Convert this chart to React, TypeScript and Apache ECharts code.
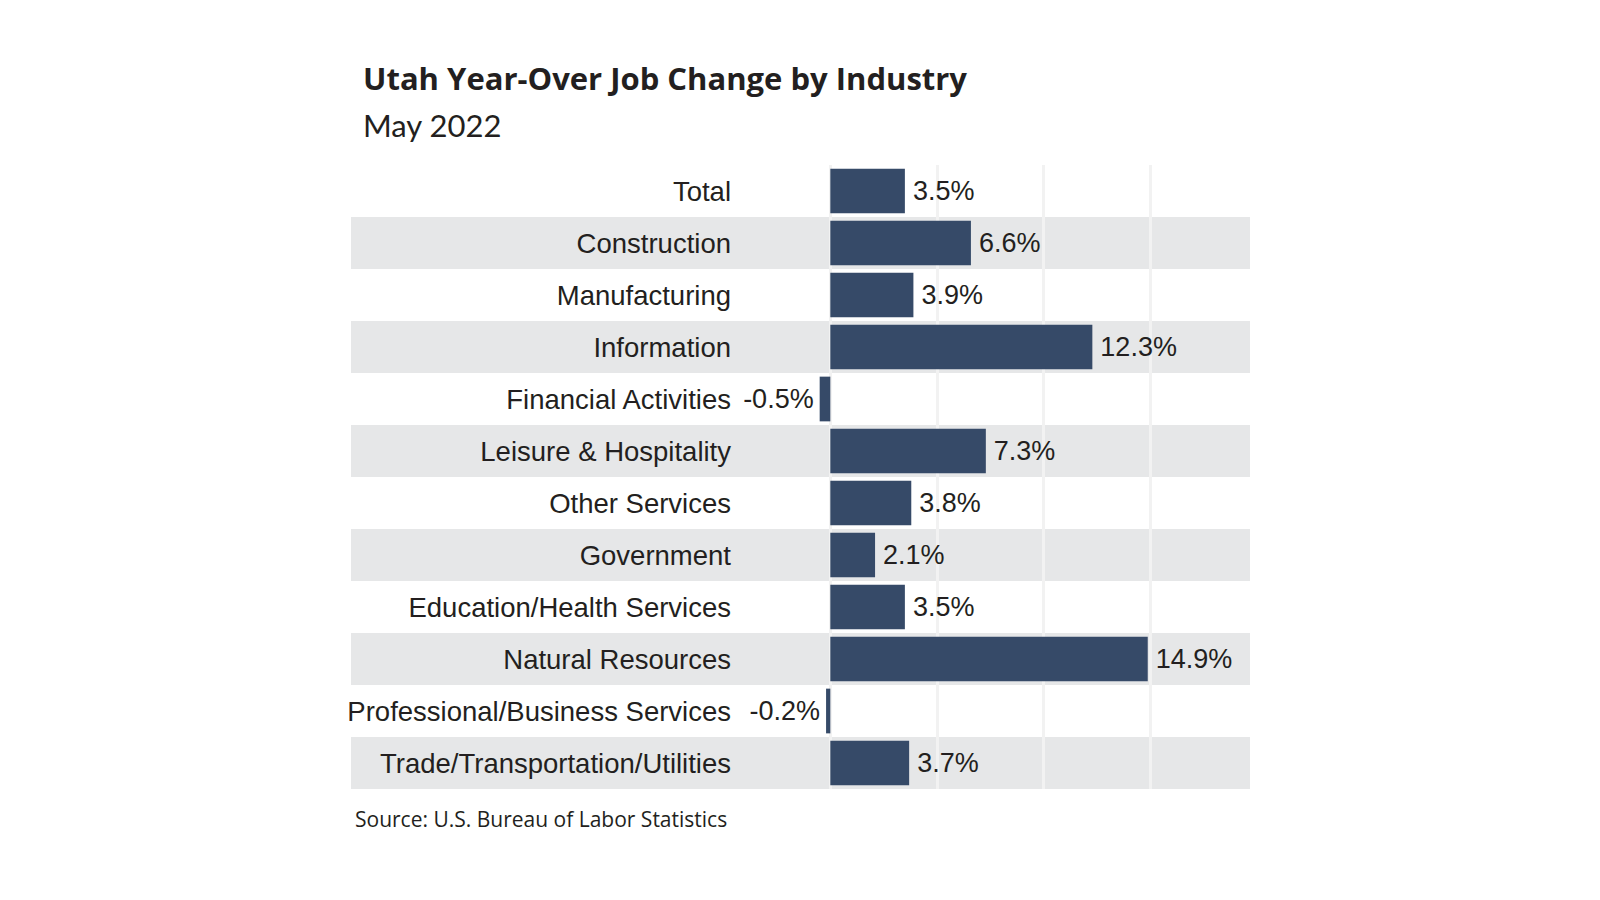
import { useEffect, useRef } from "react";
import * as echarts from "echarts";

const industries = [
  "Total",
  "Construction",
  "Manufacturing",
  "Information",
  "Financial Activities",
  "Leisure & Hospitality",
  "Other Services",
  "Government",
  "Education/Health Services",
  "Natural Resources",
  "Professional/Business Services",
  "Trade/Transportation/Utilities",
];
const jobChange = [3.5, 6.6, 3.9, 12.3, -0.5, 7.3, 3.8, 2.1, 3.5, 14.9, -0.2, 3.7];
const gridValues = [0, 5, 10, 15];

export default function App(): JSX.Element {
  const chartRef = useRef<HTMLDivElement>(null);
  useEffect(() => {
    const chart = echarts.init(chartRef.current, null, { renderer: "svg" });
    const option = {
      animation: false,
      backgroundColor: "#ffffff",
      title: {
        text: "Utah Year-Over Job Change by Industry",
        subtext: "May 2022",
        left: 358,
        top: 57,
        itemGap: 16,
        textStyle: { fontFamily: "Open Sans", fontWeight: "bold", fontSize: 31, color: "#231f20" },
        subtextStyle: { fontFamily: "Lato", fontSize: 31, color: "#231f20" },
      },
      graphic: [
        {
          type: "text",
          left: 355,
          top: 808,
          style: {
            text: "Source: U.S. Bureau of Labor Statistics",
            font: "21px 'Open Sans'",
            fill: "#231f20",
          },
        },
      ],
      grid: { left: 351, right: 350, top: 165, bottom: 111 },
      xAxis: {
        type: "value",
        min: -22.5,
        max: 19.7,
        show: false,
        splitLine: { show: false },
      },
      yAxis: {
        type: "category",
        data: industries,
        inverse: true,
        axisLine: { show: false },
        axisTick: { show: false },
        axisLabel: {
          margin: -380,
          align: "right",
          fontFamily: "Liberation Sans",
          fontSize: 27.5,
          color: "#231f20",
        },
        splitArea: { show: true, areaStyle: { color: ["#ffffff", "#e6e7e8"] } },
      },
      series: [
        {
          type: "line",
          data: [],
          z: 1,
          silent: true,
          markLine: {
            silent: true,
            z: 1,
            symbol: "none",
            label: { show: false },
            lineStyle: { type: "solid", color: "#f2f2f2", width: 3 },
            data: gridValues.map((v) => ({ xAxis: v })),
          },
        },
        {
          type: "bar",
          z: 2,
          barCategoryGap: "14%",
          itemStyle: { color: "#364a68" },
          data: jobChange.map((v) => ({
            value: v,
            label: {
              show: true,
              position: v < 0 ? "left" : "right",
              distance: v < 0 ? 6 : 8,
              formatter: `${v}%`,
              fontFamily: "Liberation Sans",
              fontSize: 27,
              color: "#231f20",
            },
          })),
        },
      ],
    };
    chart.setOption(option);
    return () => {
      chart.dispose();
    };
  }, []);
  return (
    <div
      ref={chartRef}
      style={{ position: "absolute", left: 0, top: 0, width: 1600, height: 900 }}
    ></div>
  );
}
